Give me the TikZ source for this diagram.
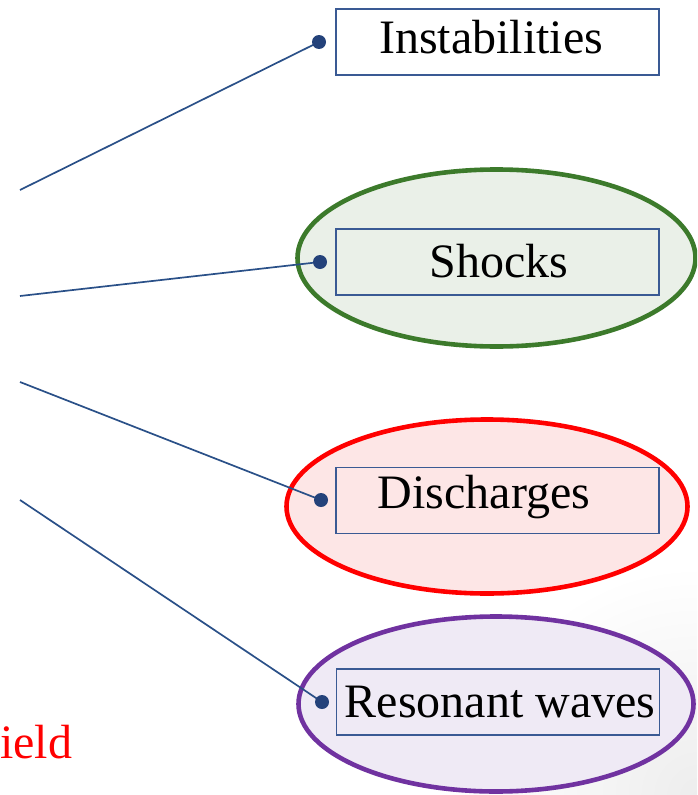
\documentclass[tikz,border=0pt]{standalone}
\usepackage{fontspec}
\setmainfont{Liberation Serif}
\usetikzlibrary{shapes.geometric}
\definecolor{linecol}{HTML}{2A5088}
\definecolor{dotcol}{HTML}{24427A}
\definecolor{boxcol}{HTML}{3A5A94}
\definecolor{grn}{HTML}{3C7A2B}
\definecolor{grnfill}{HTML}{EAF0E8}
\definecolor{redfill}{HTML}{FDE6E6}
\definecolor{purp}{HTML}{7032A0}
\definecolor{purfill}{HTML}{EFEAF5}
\tikzset{
  labelbox/.style={draw=boxcol, line width=1.8pt, minimum width=323pt, minimum height=66pt, inner sep=0pt},
  blob/.style={ellipse, line width=4.6pt, inner sep=0pt},
  conn/.style={draw=linecol, line width=1.7pt},
  dotnode/.style={circle, fill=dotcol, minimum size=14pt, inner sep=0pt},
  lbl/.style={font=\fontsize{48}{58}\selectfont, anchor=base, inner sep=0pt},
}
\begin{document}
\begin{tikzpicture}[x=1pt,y=-1pt]
\useasboundingbox (0,0) rectangle (697,795);
\clip (0,0) rectangle (697,795);
% faint background shading at lower right
\shade[inner color=black!7, outer color=white] (697,795) circle (230pt);
% ellipses
\node[blob, draw=grn, fill=grnfill, minimum width=398pt, minimum height=177pt] (eS) at (496.5,258) {};
\node[blob, draw=red, fill=redfill, minimum width=401pt, minimum height=174pt] (eD) at (487,506.5) {};
\node[blob, draw=purp, fill=purfill, minimum width=395pt, minimum height=175pt] (eR) at (496,704) {};
% boxes
\node[labelbox, fill=white] (bI) at (497.5,42) {};
\node[labelbox] (bS) at (497.5,262) {};
\node[labelbox] (bD) at (497.5,500.5) {};
\node[labelbox] (bR) at (498,702) {};
% labels
\node[lbl] (tI) at (491,53) {Instabilities};
\node[lbl] (tS) at (499,277) {Shocks};
\node[lbl] (tD) at (484,508) {Discharges};
\node[lbl] (tR) at (500,717) {Resonant waves};
\node[lbl, anchor=base west, text=red] (tF) at (-16,758) {field};
% connector ends
\coordinate (s1) at (20,190);
\coordinate (s2) at (20,296);
\coordinate (s3) at (20,382);
\coordinate (s4) at (20,500);
\coordinate (c1) at (319,42);
\coordinate (c2) at (320,262);
\coordinate (c3) at (321,500);
\coordinate (c4) at (322,702);
\draw[conn] (s1) -- (c1);
\draw[conn] (s2) -- (c2);
\draw[conn] (s3) -- (c3);
\draw[conn] (s4) -- (c4);
\node[dotnode] (d1) at (c1) {};
\node[dotnode] (d2) at (c2) {};
\node[dotnode] (d3) at (c3) {};
\node[dotnode] (d4) at (c4) {};
\end{tikzpicture}
\end{document}
